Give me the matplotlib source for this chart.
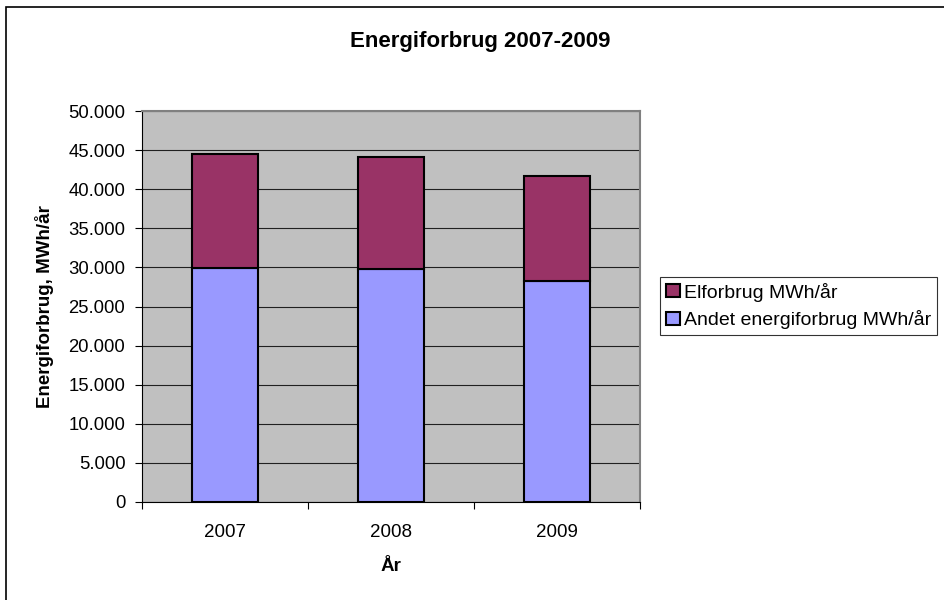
import numpy as np
import matplotlib
matplotlib.use("Agg")
import matplotlib.pyplot as plt
from matplotlib.ticker import FuncFormatter, FixedLocator
from matplotlib.patches import Rectangle

plt.rcParams['font.family'] = ['Liberation Sans', 'DejaVu Sans']

# data
years = ["2007", "2008", "2009"]
andet = [29900, 29750, 28200]
el = [14600, 14350, 13500]

fig = plt.figure(figsize=(9.44, 6), dpi=100)
# plot area in pixels: x 142..640, y 111..502
ax = fig.add_axes([142/944, 1 - 502/600, (640 - 142)/944, (502 - 111)/600])

x = np.arange(len(years))
w = 0.40
b1 = ax.bar(x, andet, w, color='#9999FF', edgecolor='black', linewidth=1.5,
            label='Andet energiforbrug MWh/år', zorder=3)
b2 = ax.bar(x, el, w, bottom=andet, color='#993366', edgecolor='black', linewidth=1.5,
            label='Elforbrug MWh/år', zorder=3)

ax.set_facecolor('#C0C0C0')
ax.set_xlim(-0.5, 2.5)
ax.set_ylim(0, 50000)
ax.set_yticks(np.arange(0, 50001, 5000))
ax.yaxis.set_major_formatter(FuncFormatter(lambda v, p: f"{int(v):,}".replace(",", ".")))
ax.grid(axis='y', color='#202020', linewidth=0.8, zorder=1)

ax.set_xticks(x)
ax.set_xticklabels(years)
ax.tick_params(axis='x', which='major', length=0, pad=16, labelsize=13.5)
ax.xaxis.set_minor_locator(FixedLocator([-0.5, 0.5, 1.5, 2.5]))
ax.tick_params(axis='x', which='minor', length=5, direction='out', width=0.8)
ax.tick_params(axis='y', length=5, direction='out', width=0.8, labelsize=13.3, pad=7)

for s in ['top', 'right']:
    ax.spines[s].set_color('#808080')
    ax.spines[s].set_linewidth(1.5)
for s in ['left', 'bottom']:
    ax.spines[s].set_color('black')
    ax.spines[s].set_linewidth(0.8)

ax.set_xlabel('År', fontsize=13.5, fontweight='bold', labelpad=12)
ax.set_ylabel('Energiforbrug, MWh/år', fontsize=13.5, fontweight='bold', labelpad=10)
fig.text(480/944, 1 - 41/600, 'Energiforbrug 2007-2009', ha='center', va='center',
         fontsize=16, fontweight='bold')

leg = fig.legend(handles=[b2, b1], labels=['Elforbrug MWh/år', 'Andet energiforbrug MWh/år'],
                 loc='center left', bbox_to_anchor=(660/944, 1 - 306/600),
                 frameon=True, fancybox=False, fontsize=14, handlelength=0.75,
                 handleheight=0.65, handletextpad=0.2, borderpad=0.3,
                 labelspacing=0.45, borderaxespad=0)
leg.get_frame().set_edgecolor('black')
leg.get_frame().set_linewidth(0.8)

# chart border (right and bottom edges are cut off in the reference)
fig.patches.append(Rectangle((6/944, -0.05), 1.1, 1.05 - 7/600, transform=fig.transFigure,
                             fill=False, edgecolor='black', linewidth=1.2))

fig.savefig('out.png', dpi=100, facecolor='white')
